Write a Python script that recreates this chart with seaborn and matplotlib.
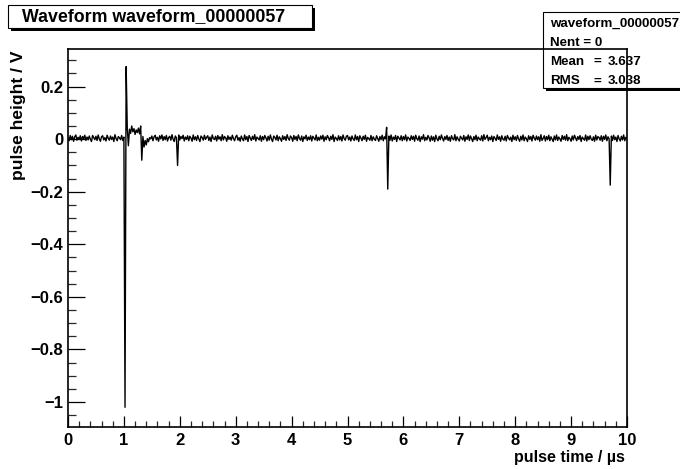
import numpy as np
import pandas as pd
import seaborn as sns
import matplotlib
matplotlib.use("Agg")
import matplotlib.pyplot as plt
from matplotlib.ticker import MultipleLocator, FuncFormatter
from matplotlib.patches import Rectangle

# ---------------- data ----------------
TITLE = "Waveform waveform_00000057"
X_LABEL = "pulse time / \u00b5s"
Y_LABEL = "pulse height / V"
STATS_NAME = "waveform_00000057"
STATS_NENT = "Nent = 0"
STATS_ROWS = [("Mean", "3.637"), ("RMS", "3.038")]

SAMPLE_STEP_US = 0.02  # sampling interval of the waveform
# pulse height in mV, one row per 0.5 us (25 samples)
pulse_mV = [
    4, -6, 14, -2, 11, -8, 9, 16, -4, 7, -1, 13, -7, 10, 2, 15, -5, 8, -3, 12, 0, -9, 14, 6, -2,
    11, -5, 16, 1, -8, 9, 13, -3, 6, -7, 15, 3, -4, 12, -1, 8, -9, 17, 2, -6, 10, 5, -2, 14, -5,
    8, -1020, 276, 45, -25, 38, 22, 50, 28, 40, 18, 35, 25, 42, 20, 50, -80, 10, -30, -5, -22, 2, -10, 6, 1,
    12, -6, 9, 15, -3, 7, -8, 13, 1, 16, -5, 10, -2, 14, -7, 6, 11, -4, 17, 0, -9, 12, 5, -100, 16,
    -3, 10, 2, 15, -7, 8, -1, 13, -6, 11, 4, -8, 16, -2, 9, -5, 14, 1, -9, 12, 6, -4, 15, -1, 7,
    13, -5, 8, -9, 16, 3, -2, 11, -7, 14, 0, 9, -6, 17, -3, 10, 5, -8, 13, -1, 8, -4, 15, 2, -6,
    9, 15, -4, 6, -8, 12, 1, -6, 16, -2, 10, -9, 14, 4, -5, 11, -1, 17, -7, 8, 3, -3, 13, -8, 10,
    -2, 14, 5, -7, 11, -4, 16, 0, -9, 12, 7, -3, 15, -6, 9, 2, -8, 13, -1, 10, -5, 17, 3, -4, 12,
    6, -8, 14, -1, 10, -6, 16, 3, -4, 12, -9, 9, 1, 15, -5, 8, -2, 13, -7, 11, 4, -3, 16, -6, 7,
    -4, 12, 0, 15, -8, 9, -2, 14, 5, -6, 11, -1, 17, -9, 8, 3, -5, 13, -3, 10, -7, 16, 2, -4, 11,
    14, -3, 8, -7, 12, 1, -5, 16, -2, 10, -9, 13, 4, -6, 11, -1, 15, -8, 7, 2, -4, 14, -6, 9, 0,
    -5, 13, 3, -8, 10, -2, 15, -6, 9, 1, 45, -190, 12, -4, 16, -7, 8, -1, 14, -9, 11, 4, -3, 13, -6,
    10, -2, 16, -7, 8, 3, -5, 13, -1, 11, -8, 15, 2, -4, 12, -9, 9, 0, 17, -6, 7, -3, 14, 5, -8,
    12, -4, 9, -9, 15, 1, -6, 11, -2, 16, 3, -7, 10, -1, 14, -5, 8, -8, 13, 2, -3, 17, -6, 9, 0,
    -7, 11, 4, -3, 14, -8, 9, -1, 16, -5, 12, 2, -9, 10, -2, 15, -6, 8, 1, -4, 13, -7, 17, -1, 6,
    15, -6, 7, -2, 12, -9, 10, 3, -5, 16, -1, 9, -8, 13, 0, -4, 11, -7, 14, 5, -3, 8, -9, 15, -2,
    9, -5, 14, 1, -8, 11, -3, 16, -6, 8, 2, -9, 13, -1, 10, -7, 15, 4, -4, 12, -2, 9, -8, 17, -5,
    3, 13, -7, 10, -2, 15, -6, 9, 0, -9, 12, -3, 16, -5, 8, 1, -8, 14, -1, 11, -4, 17, -6, 7, 2,
    -8, 12, -3, 15, 5, -6, 10, -1, 14, -9, 8, 2, -4, 16, -7, 11, -2, 13, 0, -5, 9, -8, 15, -3, 10,
    6, -4, 13, -8, 11, -1, 16, -6, 9, 2, -175, 12, -5, 15, -2, 8, -9, 14, 1, -7, 11, -3, 16, -6, 7,
    4,
]
X_RANGE = (0, 10)
Y_RANGE = (-1.095, 0.343)

df = pd.DataFrame({
    "time": np.arange(len(pulse_mV)) * SAMPLE_STEP_US,
    "height": np.array(pulse_mV) / 1000.0,
})

# ---------------- style ----------------
sns.set_theme(style="white")
plt.rcParams["font.family"] = ["Liberation Sans", "DejaVu Sans"]
plt.rcParams["font.weight"] = "bold"
plt.rcParams["axes.unicode_minus"] = True

W, H = 680, 469
fig = plt.figure(figsize=(W / 100, H / 100), dpi=100, facecolor="white")

def fx(px):
    return px / W

def fy(py):
    return 1 - py / H

ax_l, ax_r, ax_t, ax_b = 68, 627, 49, 427
ax = fig.add_axes([fx(ax_l), fy(ax_b), fx(ax_r - ax_l), (ax_b - ax_t) / H])
ax.patch.set_alpha(0)

sns.lineplot(data=df, x="time", y="height", color="black", linewidth=1.0,
             estimator=None, sort=False, ax=ax, zorder=3)

ax.set_xlim(*X_RANGE)
ax.set_ylim(*Y_RANGE)
ax.set_xlabel("")
ax.set_ylabel("")

for s in ax.spines.values():
    s.set_visible(True)
    s.set_color("black")
    s.set_linewidth(1.2)

ax.xaxis.set_major_locator(MultipleLocator(1))
ax.xaxis.set_minor_locator(MultipleLocator(0.2))
ax.yaxis.set_major_locator(MultipleLocator(0.2))
ax.yaxis.set_minor_locator(MultipleLocator(0.05))

def yfmt(v, pos):
    if abs(v) < 1e-9:
        return "0"
    s = f"{v:g}"
    return s.replace("-", "\u2212")

ax.yaxis.set_major_formatter(FuncFormatter(yfmt))
ax.xaxis.set_major_formatter(FuncFormatter(lambda v, p: f"{v:g}"))

ax.tick_params(axis="x", which="major", direction="in", length=8, width=0.9,
               bottom=True, top=False, labelsize=12, pad=4.5, colors="black")
ax.tick_params(axis="x", which="minor", direction="in", length=4, width=0.9,
               bottom=True, top=False)
ax.tick_params(axis="y", which="major", direction="in", length=12.5, width=0.9,
               left=True, right=False, labelsize=12, pad=3.5, colors="black")
ax.tick_params(axis="y", which="minor", direction="in", length=6, width=0.9,
               left=True, right=False)
for lab in ax.get_xticklabels() + ax.get_yticklabels():
    lab.set_fontweight("bold")

# axis titles (ROOT style placement)
fig.text(fx(625), fy(464.5), X_LABEL, ha="right", va="bottom", fontsize=11.5,
         fontweight="bold", color="black")
fig.text(fx(19), fy(50), Y_LABEL, ha="center", va="top", rotation=90,
         fontsize=12.5, fontweight="bold", color="black")

# boxes with shadow
def box(x0, y0, x1, y1, shadow=3, z=1):
    fig.add_artist(Rectangle((fx(x0 + shadow), fy(y1 + shadow)),
                             fx(x1 - x0), (y1 - y0) / H,
                             transform=fig.transFigure, facecolor="black",
                             edgecolor="none", zorder=z))
    fig.add_artist(Rectangle((fx(x0), fy(y1)), fx(x1 - x0), (y1 - y0) / H,
                             transform=fig.transFigure, facecolor="white",
                             edgecolor="black", linewidth=0.8, zorder=z + 0.1))

box(8, 5, 312, 28, shadow=3, z=2)
fig.text(fx(22), fy(17), TITLE, ha="left", va="center", fontsize=12.8,
         fontweight="bold", color="black", zorder=3)

# stats box (drawn below the frame)
box(543, 12, 684, 88, shadow=3, z=-2)
SFS = 9.6
fig.text(fx(550), fy(27), STATS_NAME, ha="left", va="baseline",
         fontsize=SFS, fontweight="bold", color="black", zorder=-1)
fig.text(fx(550), fy(45.5), STATS_NENT, ha="left", va="baseline",
         fontsize=SFS, fontweight="bold", color="black", zorder=-1)
for (name, val), yy in zip(STATS_ROWS, [65, 84.5]):
    fig.text(fx(550), fy(yy), name, ha="left", va="baseline", fontsize=SFS,
             fontweight="bold", color="black", zorder=-1)
    fig.text(fx(597.5), fy(yy), "=", ha="center", va="baseline", fontsize=SFS,
             fontweight="bold", color="black", zorder=-1)
    fig.text(fx(608), fy(yy), val, ha="left", va="baseline", fontsize=SFS,
             fontweight="bold", color="black", zorder=-1)

fig.savefig("out.png", dpi=100, facecolor="white")
